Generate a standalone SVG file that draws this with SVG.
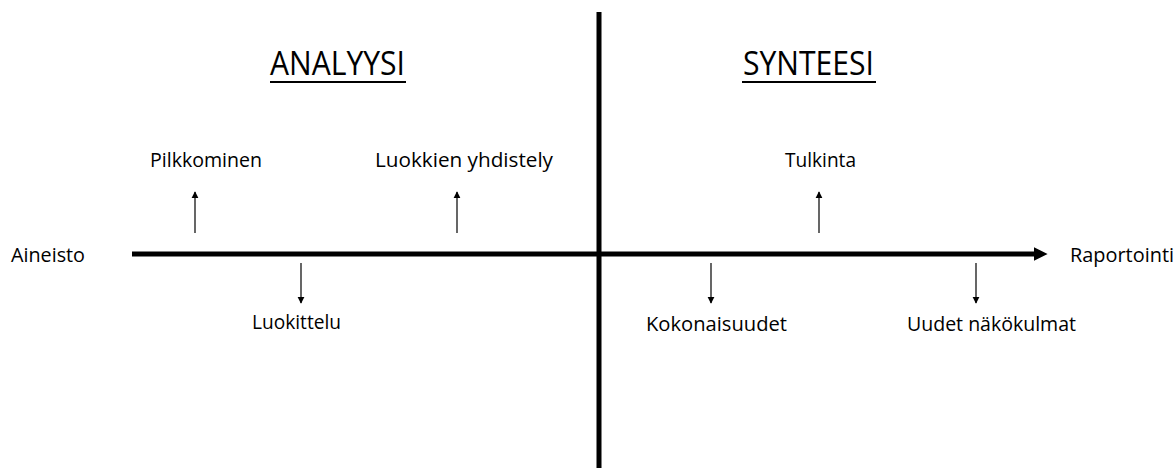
<svg xmlns="http://www.w3.org/2000/svg" width="1176" height="468" viewBox="0 0 1176 468">
  <defs>
    <marker id="tip" viewBox="0 0 10 10" refX="9" refY="5" markerWidth="7" markerHeight="8" markerUnits="userSpaceOnUse" orient="auto">
      <path d="M0,0 L10,5 L0,10 Z" fill="#000"/>
    </marker>
    <marker id="bigtip" viewBox="0 0 10 10" refX="1" refY="5" markerWidth="14" markerHeight="15" markerUnits="userSpaceOnUse" orient="auto">
      <path d="M0,0 L10,5 L0,10 Z" fill="#000"/>
    </marker>
  </defs>
  <style>
    .lbl { font-family: "Open Sans", "Noto Sans", sans-serif; font-size: 20px; fill: #000; }
    .title { font-family: "Open Sans", "Noto Sans", sans-serif; font-size: 32px; fill: #000; }
    .ul { stroke: #000; stroke-width: 2; }
    .axis { stroke: #000; stroke-width: 5; fill: none; }
    .small { stroke: #000; stroke-width: 1.2; fill: none; marker-end: url(#tip); }
  </style>
  <rect width="1176" height="468" fill="#fff"/>

  <g id="connectors">
    <line class="axis" x1="599" y1="12" x2="599" y2="468"/>
    <line class="axis" x1="132" y1="254" x2="1035" y2="254" marker-end="url(#bigtip)"/>
    <line class="small" x1="195" y1="233" x2="195" y2="192"/>
    <line class="small" x1="457" y1="233" x2="457" y2="192"/>
    <line class="small" x1="819" y1="233" x2="819" y2="192"/>
    <line class="small" x1="301" y1="263" x2="301" y2="303"/>
    <line class="small" x1="711" y1="263" x2="711" y2="303"/>
    <line class="small" x1="976" y1="263" x2="976" y2="303"/>
  </g>

  <g id="analyysi">
    <text class="title" x="270" y="75" textLength="135" lengthAdjust="spacingAndGlyphs">ANALYYSI</text>
    <line class="ul" x1="270" y1="82" x2="406" y2="82"/>
  </g>
  <g id="synteesi">
    <text class="title" x="743" y="75" textLength="131" lengthAdjust="spacingAndGlyphs">SYNTEESI</text>
    <line class="ul" x1="742" y1="82" x2="876" y2="82"/>
  </g>

  <g id="aineisto"><text class="lbl" x="11" y="262" textLength="74" lengthAdjust="spacingAndGlyphs">Aineisto</text></g>
  <g id="raportointi"><text class="lbl" x="1070" y="262" textLength="104" lengthAdjust="spacingAndGlyphs">Raportointi</text></g>
  <g id="pilkkominen"><text class="lbl" x="150" y="167" textLength="112" lengthAdjust="spacingAndGlyphs">Pilkkominen</text></g>
  <g id="luokkien-yhdistely"><text class="lbl" x="375" y="167" textLength="178" lengthAdjust="spacingAndGlyphs">Luokkien yhdistely</text></g>
  <g id="tulkinta"><text class="lbl" x="785" y="167" textLength="71" lengthAdjust="spacingAndGlyphs">Tulkinta</text></g>
  <g id="luokittelu"><text class="lbl" x="252" y="329" textLength="89" lengthAdjust="spacingAndGlyphs">Luokittelu</text></g>
  <g id="kokonaisuudet"><text class="lbl" x="646" y="331" textLength="141" lengthAdjust="spacingAndGlyphs">Kokonaisuudet</text></g>
  <g id="uudet-nakokulmat"><text class="lbl" x="907" y="331" textLength="169" lengthAdjust="spacingAndGlyphs">Uudet näkökulmat</text></g>
</svg>
